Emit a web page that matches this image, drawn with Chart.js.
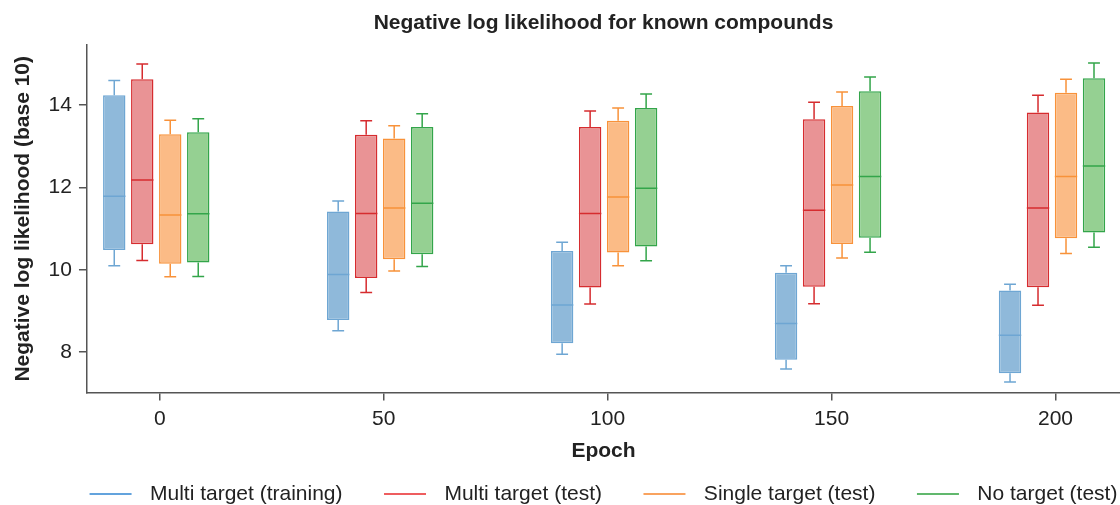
<!DOCTYPE html>
<html>
<head>
<meta charset="utf-8">
<script src="https://cdn.jsdelivr.net/npm/chart.js@4"></script>
<style>
  body { margin: 0; background: #fff; }
  #wrap { width: 1120px; height: 505px; }
</style>
</head>
<body>
<div id="wrap"><canvas id="grafico" width="1120" height="505"></canvas></div>
<script>
// data
const epochs = [0, 50, 100, 150, 200];
const xTicks = [0, 50, 100, 150, 200];
const yTicks = [8, 10, 12, 14];

const trainLow  = [10.10, 8.52, 7.95, 7.59, 7.28];
const trainQ1   = [10.48, 8.78, 8.22, 7.82, 7.49];
const trainMed  = [11.79, 9.89, 9.15, 8.70, 8.41];
const trainQ3   = [14.24, 11.42, 10.46, 9.93, 9.50];
const trainHigh = [14.60, 11.67, 10.67, 10.10, 9.65];

const multiLow  = [10.23, 9.45, 9.17, 9.18, 9.14];
const multiQ1   = [10.62, 9.80, 9.57, 9.59, 9.58];
const multiMed  = [12.18, 11.37, 11.37, 11.45, 11.50];
const multiQ3   = [14.63, 13.28, 13.47, 13.66, 13.82];
const multiHigh = [15.00, 13.62, 13.86, 14.07, 14.24];

const singleLow  = [9.83, 9.97, 10.10, 10.29, 10.40];
const singleQ1   = [10.15, 10.26, 10.42, 10.63, 10.77];
const singleMed  = [11.33, 11.50, 11.77, 12.06, 12.27];
const singleQ3   = [13.29, 13.19, 13.62, 13.98, 14.30];
const singleHigh = [13.63, 13.50, 13.93, 14.32, 14.63];

const noneLow  = [9.84, 10.08, 10.22, 10.43, 10.55];
const noneQ1   = [10.18, 10.38, 10.57, 10.78, 10.91];
const noneMed  = [11.36, 11.62, 11.98, 12.27, 12.52];
const noneQ3   = [13.34, 13.47, 13.93, 14.34, 14.65];
const noneHigh = [13.67, 13.79, 14.27, 14.68, 15.02];

const FONT = "'Liberation Sans', Arial, Helvetica, sans-serif";
Chart.defaults.font.family = FONT;
Chart.defaults.font.size = 21;
Chart.defaults.color = '#222';

const groupShift = -0.78; // boxes sit a little left of the tick

function caixa(label, low, q1, med, q3, high, fill, border, legendColor) {
  return {
    label: label,
    data: epochs.map((e, i) => ({ x: e + groupShift, y: [q1[i], q3[i]] })),
    low: low, med: med, high: high,
    backgroundColor: fill,
    borderColor: border,
    legendColor: legendColor,
    borderWidth: 1.5,
    borderSkipped: false,
    categoryPercentage: 0.5,
    barPercentage: 0.8
  };
}

// whiskers + median
const bigodes = {
  id: 'bigodes',
  afterDatasetsDraw(chart) {
    const ctx = chart.ctx;
    const y = chart.scales.y;
    chart.data.datasets.forEach((ds, di) => {
      const meta = chart.getDatasetMeta(di);
      meta.data.forEach((bar, i) => {
        const x = bar.x, w = bar.width, cap = w * 0.53;
        const yHigh = y.getPixelForValue(ds.high[i]);
        const yLow = y.getPixelForValue(ds.low[i]);
        const yMed = y.getPixelForValue(ds.med[i]);
        const yTop = y.getPixelForValue(ds.data[i].y[1]);
        const yBot = y.getPixelForValue(ds.data[i].y[0]);
        ctx.save();
        ctx.strokeStyle = ds.borderColor;
        ctx.lineWidth = 1.5;
        ctx.beginPath();
        ctx.moveTo(x, yTop); ctx.lineTo(x, yHigh);
        ctx.moveTo(x - cap / 2, yHigh); ctx.lineTo(x + cap / 2, yHigh);
        ctx.moveTo(x, yBot); ctx.lineTo(x, yLow);
        ctx.moveTo(x - cap / 2, yLow); ctx.lineTo(x + cap / 2, yLow);
        ctx.moveTo(x - w / 2, yMed); ctx.lineTo(x + w / 2, yMed);
        ctx.stroke();
        ctx.restore();
      });
    });
  }
};

// legend drawn under the axis title, centred on the plot area
const legenda = {
  id: 'legenda',
  afterDraw(chart) {
    const ctx = chart.ctx;
    const area = chart.chartArea;
    const lineLen = 42, gapText = 18.4, gapItem = 41.5;
    const yPos = 494;
    ctx.save();
    ctx.font = '21px ' + FONT;
    const widths = chart.data.datasets.map(ds => ctx.measureText(ds.label).width);
    let total = 0;
    widths.forEach((w, i) => { total += lineLen + gapText + w + (i ? gapItem : 0); });
    let x = (area.left + area.right) / 2 - total / 2;
    chart.data.datasets.forEach((ds, i) => {
      ctx.strokeStyle = ds.legendColor;
      ctx.lineWidth = 1.5;
      ctx.beginPath();
      ctx.moveTo(x, yPos); ctx.lineTo(x + lineLen, yPos);
      ctx.stroke();
      ctx.fillStyle = '#222';
      ctx.textBaseline = 'middle';
      ctx.textAlign = 'left';
      ctx.fillText(ds.label, x + lineLen + gapText, yPos);
      x += lineLen + gapText + widths[i] + gapItem;
    });
    ctx.restore();
  }
};

const ctx = document.getElementById('grafico');

new Chart(ctx, {
  type: 'bar',
  data: {
    datasets: [
      caixa('Multi target (training)', trainLow, trainQ1, trainMed, trainQ3, trainHigh, '#8fb9da', '#6ea6d3', '#2f84d2'),
      caixa('Multi target (test)', multiLow, multiQ1, multiMed, multiQ3, multiHigh, '#e99395', '#d62c2f', '#e8272a'),
      caixa('Single target (test)', singleLow, singleQ1, singleMed, singleQ3, singleHigh, '#fbbb86', '#f8923a', '#f7852a'),
      caixa('No target (test)', noneLow, noneQ1, noneMed, noneQ3, noneHigh, '#95d092', '#33a54a', '#2ca03c')
    ]
  },
  options: {
    responsive: false,
    animation: false,
    devicePixelRatio: 1,
    layout: { padding: { left: 0, right: 0, top: 0, bottom: 37 } },
    plugins: {
      legend: { display: false },
      tooltip: { enabled: false },
      title: {
        display: true,
        fullSize: false,
        text: 'Negative log likelihood for known compounds',
        font: { size: 21, weight: 'bold' },
        color: '#222',
        padding: { top: 10.4, bottom: 9.4 }
      }
    },
    scales: {
      x: {
        type: 'linear',
        min: -16.25,
        max: 214.4,
        offset: false,
        afterBuildTicks: s => { s.ticks = xTicks.map(v => ({ value: v })); },
        ticks: { padding: 6.5, color: '#222', font: { size: 21 } },
        grid: { display: true, offset: false, drawOnChartArea: false, drawTicks: true, tickLength: 8, color: '#555', lineWidth: 1.5 },
        border: { display: true, color: '#555', width: 1.5 },
        title: { display: true, text: 'Epoch', color: '#222', font: { size: 21, weight: 'bold' }, padding: { top: 0, bottom: 4 } }
      },
      y: {
        min: 7.02,
        max: 15.46,
        afterBuildTicks: s => { s.ticks = yTicks.map(v => ({ value: v })); },
        ticks: { padding: 7, color: '#222', font: { size: 21 } },
        grid: { display: true, drawOnChartArea: false, drawTicks: true, tickLength: 8, color: '#555', lineWidth: 1.5 },
        border: { display: true, color: '#555', width: 1.5 },
        title: { display: true, text: 'Negative log likelihood (base 10)', color: '#222', font: { size: 21, weight: 'bold' }, padding: { top: 10.7, bottom: 5.7 } }
      }
    }
  },
  plugins: [bigodes, legenda]
});
</script>
</body>
</html>
